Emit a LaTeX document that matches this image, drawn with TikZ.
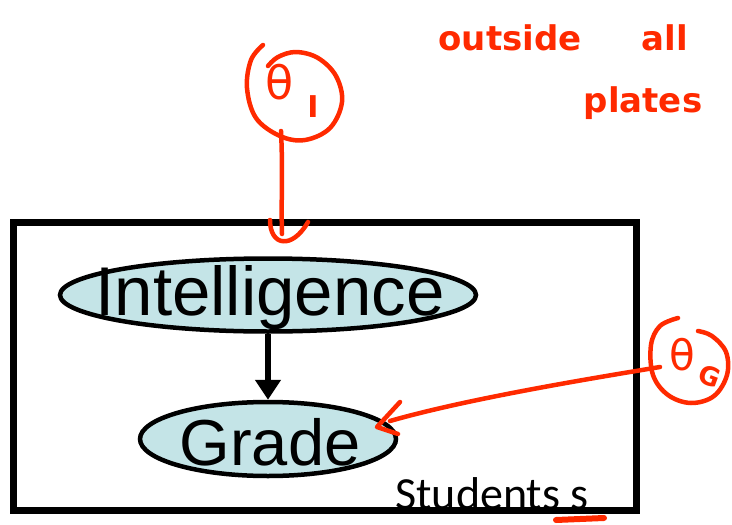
\documentclass[tikz,border=0pt]{standalone}
\usepackage{fontspec}
\setmainfont{Liberation Sans}
\newfontfamily\calfont{Carlito}
\newfontfamily\handfont{DejaVu Sans}
\usetikzlibrary{shapes.geometric,arrows.meta}
\definecolor{inkred}{HTML}{FF2A00}
\definecolor{nodeblue}{HTML}{C4E4E7}
\tikzset{
  varnode/.style={ellipse,draw=black,line width=4.5pt,fill=nodeblue,inner sep=0pt},
  vartext/.style={inner sep=0pt,font=\fontsize{66}{66}\selectfont},
  ink/.style={draw=inkred,line width=4.5pt,line cap=round,line join=round},
  inktext/.style={text=inkred,inner sep=0pt,font=\handfont\bfseries\fontsize{34}{34}\selectfont},
  platebox/.style={draw=black,line width=7pt}
}
\begin{document}
\begin{tikzpicture}[x=1pt,y=-1pt]
\useasboundingbox (0,0) rectangle (732,525);
% plate label (partly under plate border)
\node[anchor=base,inner sep=0pt,font=\calfont\fontsize{46}{46}\selectfont] (lbl) at (492,509) {Students s};
\node[platebox,minimum width=623pt,minimum height=288pt,inner sep=0pt] (plate) at (324.5,366) {};
% variables
\node[varnode,minimum width=416pt,minimum height=73pt] (int) at (268,295) {};
\node[vartext,font=\fontsize{69}{69}\selectfont] (intlbl) at (270,298) {Intelligence};
\node[varnode,minimum width=256pt,minimum height=74pt] (grade) at (268,439) {};
\node[vartext,font=\fontsize{65}{65}\selectfont] (gradelbl) at (270,442) {Grade};
\draw[line width=5.5pt,-{Triangle[length=20pt,width=25pt]}] (int) -- (grade);
% theta_I
\draw[ink] plot[smooth,tension=0.6] coordinates {(263,45) (251,60) (247,88) (256,118) (280,136) (305,140) (330,128) (342,102) (336,76) (318,58) (296,52) (278,57) (268,66)};
\node[inktext,font=\handfont\fontsize{46}{46}\selectfont] (thI) at (280,82) {θ};
\node[inktext,font=\handfont\bfseries\fontsize{30}{30}\selectfont] (subI) at (313,107) {I};
\coordinate (thIout) at (281,131);
\coordinate (thIin) at (282,234);
\draw[ink] (thIout) .. controls (283,170) and (281,200) .. (thIin);
\draw[ink] (270,220) .. controls (270,246) and (292,250) .. (308,222);
% theta_G
\draw[ink] plot[smooth,tension=0.6] coordinates {(678,318) (660,326) (651,345) (653,375) (668,395) (691,403) (714,396) (727,375) (726,352) (712,336) (698,331)};
\node[inktext,font=\handfont\fontsize{42}{42}\selectfont] (thG) at (682,355) {θ};
\node[inktext,font=\handfont\bfseries\fontsize{26}{26}\selectfont,rotate=-20] (subG) at (710,376) {G};
\coordinate (thGout) at (660,367);
\coordinate (thGin) at (390,421);
\draw[ink] (thGout) .. controls (600,377) and (470,398) .. (thGin);
\draw[ink] (400,402) -- (377,427) -- (398,434);
% underline of s
\draw[ink,line width=6pt] (556,520) -- (604,518);
% note
\node[inktext,anchor=base] (n1) at (510,50) {outside};
\node[inktext,anchor=base] (n2) at (665,50) {all};
\node[inktext,anchor=base] (n3) at (643,112) {plates};
\end{tikzpicture}
\end{document}
